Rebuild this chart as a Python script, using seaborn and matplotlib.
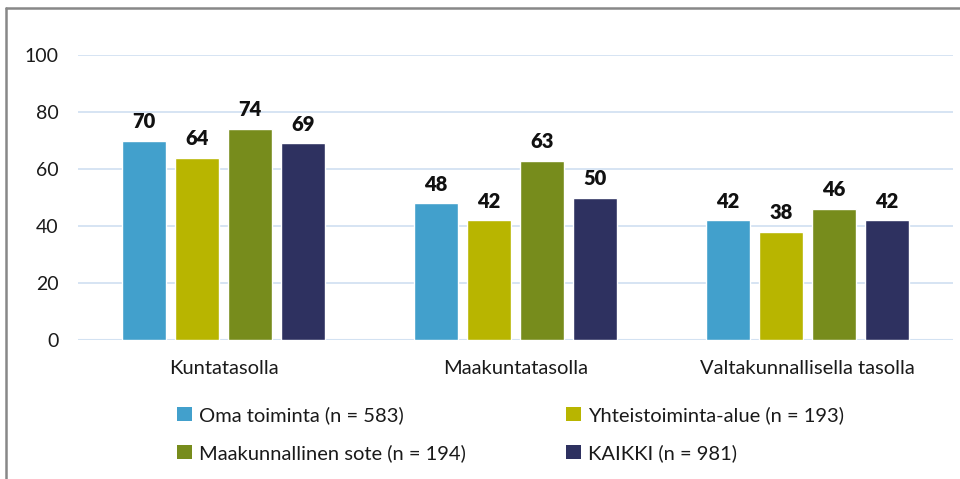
import numpy as np
import pandas as pd
import matplotlib
matplotlib.use('Agg')
import matplotlib.pyplot as plt
from matplotlib.lines import Line2D
from matplotlib.patches import Patch
import seaborn as sns

# ============================================
# Data
# ============================================
CATEGORIES = ['Kuntatasolla', 'Maakuntatasolla', 'Valtakunnallisella tasolla']
SERIES = ['Oma toiminta (n = 583)', 'Yhteistoiminta-alue (n = 193)',
          'Maakunnallinen sote (n = 194)', 'KAIKKI (n = 981)']
OMA = [70, 48, 42]
YHTEIS = [64, 42, 38]
MAAKUNNALLINEN = [74, 63, 46]
KAIKKI = [69, 50, 42]
Y_TICKS = [0, 20, 40, 60, 80, 100]

COLORS = ['#42A0CC', '#B8B500', '#778C1C', '#2E3160']
GRID = '#D3E2F2'

sns.set_theme(style='white')
plt.rcParams['font.family'] = ['Lato', 'DejaVu Sans']

rows = []
for name, vals in zip(SERIES, [OMA, YHTEIS, MAAKUNNALLINEN, KAIKKI]):
    for cat, v in zip(CATEGORIES, vals):
        rows.append({'taso': cat, 'sarja': name, 'arvo': v})
df = pd.DataFrame(rows)

fig = plt.figure(figsize=(9.6, 4.79), dpi=100)
ax = fig.add_axes([0.081, 0.290, 0.912, 0.595])

sns.barplot(data=df, x='taso', y='arvo', hue='sarja', order=CATEGORIES,
            hue_order=SERIES, palette=COLORS, width=0.726, gap=0.17,
            saturation=1, legend=False, ax=ax)

for c in ax.containers:
    ax.bar_label(c, fmt='%d', padding=7, fontsize=14.5, fontweight='heavy',
                 color='#111111')

ax.set_ylim(0, 100)
ax.set_xlim(-0.5, 2.5)
ax.set_yticks(Y_TICKS)
ax.yaxis.grid(True, color=GRID, linewidth=1.3)
ax.set_axisbelow(True)
for s in ax.spines.values():
    s.set_visible(False)
ax.axhline(0, color=GRID, linewidth=1.5, zorder=0)
ax.set_xlabel('')
ax.set_ylabel('')
ax.tick_params(axis='y', labelsize=14, pad=14, length=0, labelcolor='#1a1a1a')
ax.tick_params(axis='x', labelsize=14.5, pad=14, length=0, labelcolor='#1a1a1a')

# legend: rows = (Oma, Yhteis), (Maakunnallinen, KAIKKI)
handles = [Patch(facecolor=c, edgecolor='none') for c in COLORS]
order = [0, 2, 1, 3]
fig.legend([handles[i] for i in order], [SERIES[i] for i in order],
           ncol=2, loc='upper left', bbox_to_anchor=(0.165, 0.190),
           frameon=False, fontsize=14.5, handlelength=0.75, handleheight=0.75,
           handletextpad=0.35, labelspacing=1.0, columnspacing=5.0,
           labelcolor='#1a1a1a')

# outer frame (left and top)
fig.add_artist(Line2D([6 / 960, 6 / 960], [0, 1 - 8 / 479],
                      transform=fig.transFigure, color='#888888', linewidth=1.8))
fig.add_artist(Line2D([6 / 960, 1], [1 - 8 / 479, 1 - 8 / 479],
                      transform=fig.transFigure, color='#888888', linewidth=1.8))

fig.savefig('out.png', dpi=100)
